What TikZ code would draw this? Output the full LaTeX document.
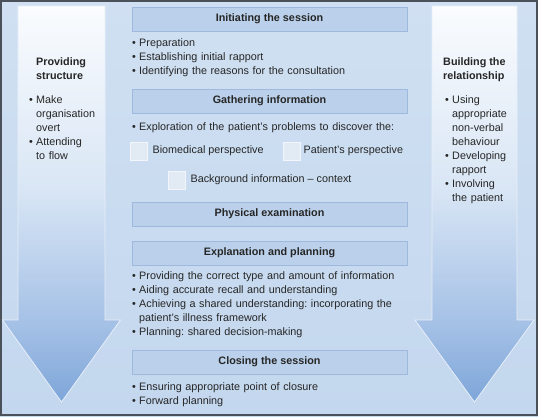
\documentclass[tikz,border=0pt]{standalone}
\usepackage{fontspec}
\setmainfont{Liberation Sans}
\usetikzlibrary{positioning}

\definecolor{bgtop}{HTML}{D0E0F2}
\definecolor{bgbot}{HTML}{C3D7EE}
\definecolor{hdrfill}{HTML}{BBD1EB}
\definecolor{hdrline}{HTML}{9EB9DD}
\definecolor{boxfill}{HTML}{E2EAF4}
\definecolor{framegray}{HTML}{4B5159}
\definecolor{txtgray}{HTML}{262626}
\definecolor{arrowtip}{HTML}{7EA6D9}
\definecolor{arrowbase}{HTML}{A5C1E6}
\definecolor{arrowmid}{HTML}{D9E6F5}
\definecolor{arrowtop}{HTML}{FAFCFE}

\pgfdeclareverticalshading{arrowshade}{100bp}{color(0bp)=(arrowtip); color(25bp)=(arrowtip);
  color(35bp)=(arrowbase); color(52bp)=(arrowmid); color(75bp)=(arrowtop); color(100bp)=(arrowtop)}

\newcommand{\txtfont}{\fontsize{10.8}{14}\selectfont}
\newcommand{\bl}[1]{\hangindent=7pt\hangafter=1\noindent\makebox[7pt][l]{\textbullet}#1\par}

\tikzset{
  hdr/.style={draw=hdrline, fill=hdrfill, minimum width=275pt, minimum height=24pt,
    inner sep=0pt, anchor=north, font=\bfseries\txtfont, text=txtgray},
  bultxt/.style={anchor=north west, inner sep=0pt, text width=#1, align=left,
    font=\txtfont\frenchspacing, text=txtgray},
  tickbox/.style={draw=white!55!boxfill, fill=boxfill, minimum width=17pt,
    minimum height=18pt, inner sep=0pt, anchor=north west},
  lbl/.style={inner sep=0pt, font=\txtfont, text=txtgray},
  bigarrow/.style={shading=arrowshade, draw=white!75!arrowbase, line width=0.8pt},
}

\begin{document}
\begin{tikzpicture}[x=1pt,y=-1pt]
  \useasboundingbox (0,0) rectangle (538,416);
  % background and frame
  \shade[top color=bgtop, bottom color=bgbot] (0,0) rectangle (538,416);
  \draw[framegray, line width=2pt] (1,1) rectangle (537,415);

  % the two big arrows
  \path[bigarrow] (18,6) -- (105,6) -- (105,320) -- (120.5,320) -- (61.5,402)
    -- (2.5,320) -- (18,320) -- cycle;
  \path[bigarrow] (432,6) -- (517,6) -- (517,320) -- (534,320) -- (474.5,402)
    -- (415,320) -- (432,320) -- cycle;

  \node[lbl, anchor=north west, font=\bfseries\txtfont, align=left] (lefthead) at (36,57)
    {Providing\\structure};
  \node[bultxt=80pt] (leftlist) at (29,95)
    {\bl{Make\newline organisation\newline overt}\bl{Attending\newline to flow}};

  \node[lbl, anchor=north west, font=\bfseries\txtfont, align=left] (righthead) at (443,57)
    {Building the\\relationship};
  \node[bultxt=80pt] (rightlist) at (445,95)
    {\bl{Using\newline appropriate\newline non-verbal\newline behaviour}\bl{Developing\newline rapport}%
     \bl{Involving\newline the patient}};

  % stages
  \node[hdr] (initbox) at (269.5,6.5) {Initiating the session};
  \node[bultxt=280pt] (initlist) at (132,38)
    {\bl{Preparation}\bl{Establishing initial rapport}\bl{Identifying the reasons for the consultation}};

  \node[hdr] (gatherbox) at (269.5,88.5) {Gathering information};
  \node[bultxt=280pt] (explore) at (132,122)
    {\bl{Exploration of the patient's problems to discover the:}};
  \node[tickbox] (biobox) at (130,142) {};
  \node[lbl, right=5pt of biobox] (biotxt) {Biomedical perspective};
  \node[tickbox] (patbox) at (283,142) {};
  \node[lbl, right=3pt of patbox] (pattxt) {Patient's perspective};
  \node[tickbox] (bgbox) at (168,171) {};
  \node[lbl, right=5pt of bgbox] (bgtxt) {Background information -- context};

  \node[hdr] (physbox) at (269.5,201.5) {Physical examination};

  \node[hdr] (explbox) at (269.5,240.5) {Explanation and planning};
  \node[bultxt=290pt] (expllist) at (132,271)
    {\bl{Providing the correct type and amount of information}\bl{Aiding accurate recall and understanding}%
     \bl{Achieving a shared understanding: incorporating the\newline patient's illness framework}%
     \bl{Planning: shared decision-making}};

  \node[hdr] (closebox) at (269.5,350) {Closing the session};
  \node[bultxt=280pt] (closelist) at (132,382)
    {\bl{Ensuring appropriate point of closure}\bl{Forward planning}};
\end{tikzpicture}
\end{document}
